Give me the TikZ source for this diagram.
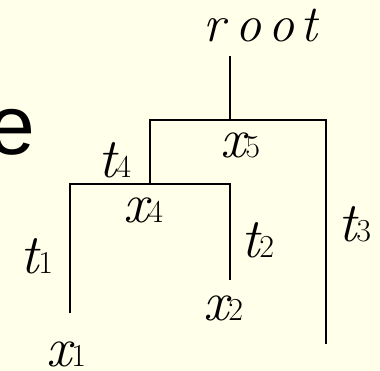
\documentclass[tikz,border=0pt]{standalone}
\usepackage{fontspec}
\newfontfamily\bigsans{Liberation Sans}
\definecolor{bg}{RGB}{255,255,234}
\newcommand\dg[1]{{\upshape\fontsize{32}{32}\selectfont\addfontfeature{FakeBold=0.8}#1}}
\newcommand\lt[1]{\makebox[32.5pt][l]{#1}}
\begin{document}
\begin{tikzpicture}[x=1pt,y=-1pt,
  tree/.style={line width=1.4pt, line join=miter},
  lab/.style={inner sep=0pt, anchor=base west, text depth=0pt, font=\rmfamily\itshape\fontsize{56}{56}\selectfont\addfontfeature{FakeBold=1.2}}]
\fill[bg] (0,0) rectangle (380,371);
\useasboundingbox (0,0) rectangle (380,371);
\node[inner sep=0pt, anchor=base west, font=\bigsans\fontsize{84}{84}\selectfont] (e) at (-12,155) {e};
\coordinate (rt) at (230,56);
\coordinate (j5) at (230,120);
\coordinate (l5) at (150,120);
\coordinate (r5) at (326,120);
\coordinate (j4) at (150,184);
\coordinate (l4) at (70,184);
\coordinate (r4) at (230,184);
\coordinate (f1) at (70,313);
\coordinate (f2) at (230,280);
\coordinate (f3) at (326,344);
\draw[tree] (rt) -- (j5);
\draw[tree] (j4) -- (l5) -- (r5) -- (f3);
\draw[tree] (f1) -- (l4) -- (r4) -- (f2);
\node[inner sep=0pt, anchor=base west, font=\rmfamily\itshape\fontsize{52}{52}\selectfont\addfontfeature{FakeBold=1.2}] (root) at (203,42) {\lt{r}\lt{o}\lt{o}t};
\node[lab] (x5) at (220,158) {x\dg{5}};
\node[lab] (t4) at (98,178) {t\dg{4}};
\node[lab] (x4) at (123,223) {x\dg{4}};
\node[lab] (t1) at (20,274) {t\dg{1}};
\node[lab] (x1) at (46,366) {x\dg{1}};
\node[lab] (t2) at (241,258) {t\dg{2}};
\node[lab] (x2) at (203,320) {x\dg{2}};
\node[lab] (t3) at (338,242) {t\dg{3}};
\end{tikzpicture}
\end{document}
